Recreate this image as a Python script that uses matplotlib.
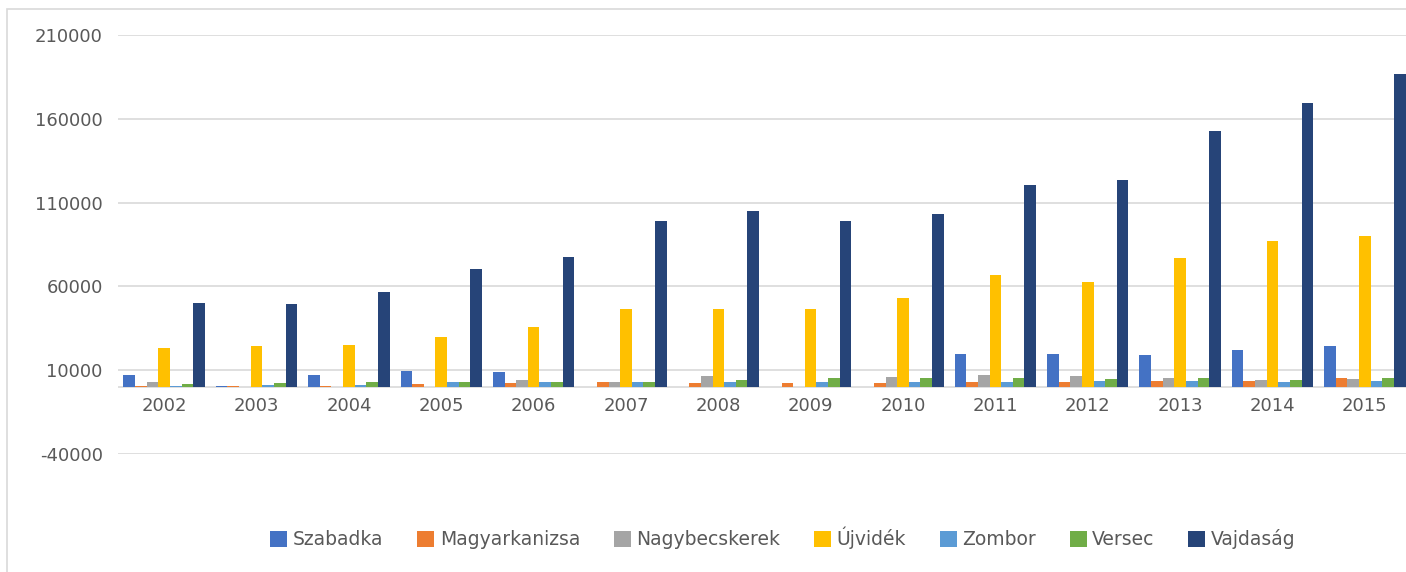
import matplotlib
matplotlib.use("Agg")
import matplotlib.pyplot as plt
import numpy as np
from matplotlib.patches import Rectangle

years = ["2002", "2003", "2004", "2005", "2006", "2007", "2008",
         "2009", "2010", "2011", "2012", "2013", "2014", "2015"]
series_names = ["Szabadka", "Magyarkanizsa", "Nagybecskerek", "Újvidék",
                "Zombor", "Versec", "Vajdaság"]
szabadka = [7200, 500, 7200, 9700, 9100, 0, 0, 0, 0, 19700, 19700, 19100, 22100, 24500]
magyarkanizsa = [300, 500, 800, 1600, 2200, 2800, 2200, 2500, 2500, 2800, 2800, 3800, 3800, 5600]
nagybecskerek = [2800, 0, 0, 0, 4200, 2800, 6800, 0, 5800, 7200, 6800, 5200, 4200, 4800]
ujvidek = [23300, 24500, 25000, 29800, 35800, 46600, 46600, 46600, 53100, 66900, 62700, 77000, 87200, 90100]
zombor = [800, 1000, 1000, 2800, 2800, 3200, 3200, 2800, 2800, 2800, 3600, 3600, 2800, 3600]
versec = [1600, 2500, 2800, 2800, 2800, 2800, 4200, 5600, 5600, 5200, 4800, 5600, 4200, 5600]
vajdasag = [50100, 49500, 56700, 70400, 77600, 99100, 105000, 99100, 103300, 120600, 123600, 152800, 169500, 186900]
yticks = [-40000, 10000, 60000, 110000, 160000, 210000]

colors = ["#4472C4", "#ED7D31", "#A5A5A5", "#FFC000", "#5B9BD5", "#70AD47", "#264478"]
data = [szabadka, magyarkanizsa, nagybecskerek, ujvidek, zombor, versec, vajdasag]

W, H = 1406, 572
fig = plt.figure(figsize=(W / 100, H / 100), dpi=100)
fig.patch.set_facecolor("white")

# chart area border (left/top visible)
fig.add_artist(Rectangle((7 / W, -0.1), 1.2, (H - 9) / H + 0.1, transform=fig.transFigure,
                         fill=False, edgecolor="#D9D9D9", linewidth=1.2))

ax = fig.add_axes([118 / W, (H - 454) / H, (1411 - 118) / W, (454 - 35) / H])
x = np.arange(len(years))
bw = 0.126
n = len(series_names)
for i, (name, vals, c) in enumerate(zip(series_names, data, colors)):
    ax.bar(x + (i - (n - 1) / 2) * bw, vals, width=bw, color=c, label=name, zorder=3)

ax.set_xlim(-0.5, len(years) - 0.5)
ax.set_ylim(-40000, 210000)
ax.set_yticks(yticks)
ax.set_yticklabels([str(v) for v in yticks])
ax.grid(axis="y", color="#D9D9D9", linewidth=1.2, zorder=0)
ax.axhline(0, color="#D9D9D9", linewidth=1.2, zorder=2)
for s in ax.spines.values():
    s.set_visible(False)
ax.tick_params(axis="y", length=0, pad=11, labelsize=13, labelcolor="#595959")
ax.set_xticks([])
for xi, yr in zip(x, years):
    ax.text(xi, -6000, yr, ha="center", va="top", fontsize=13, color="#595959")

handles, labels = ax.get_legend_handles_labels()
leg = fig.legend(handles, labels, loc="center", bbox_to_anchor=(783 / W, 1 - 538 / H),
                 ncol=7, frameon=False, fontsize=13.5, handlelength=0.9, handleheight=0.9,
                 handletextpad=0.3, columnspacing=1.8, labelcolor="#595959")

fig.savefig("out.png", dpi=100, facecolor="white")
